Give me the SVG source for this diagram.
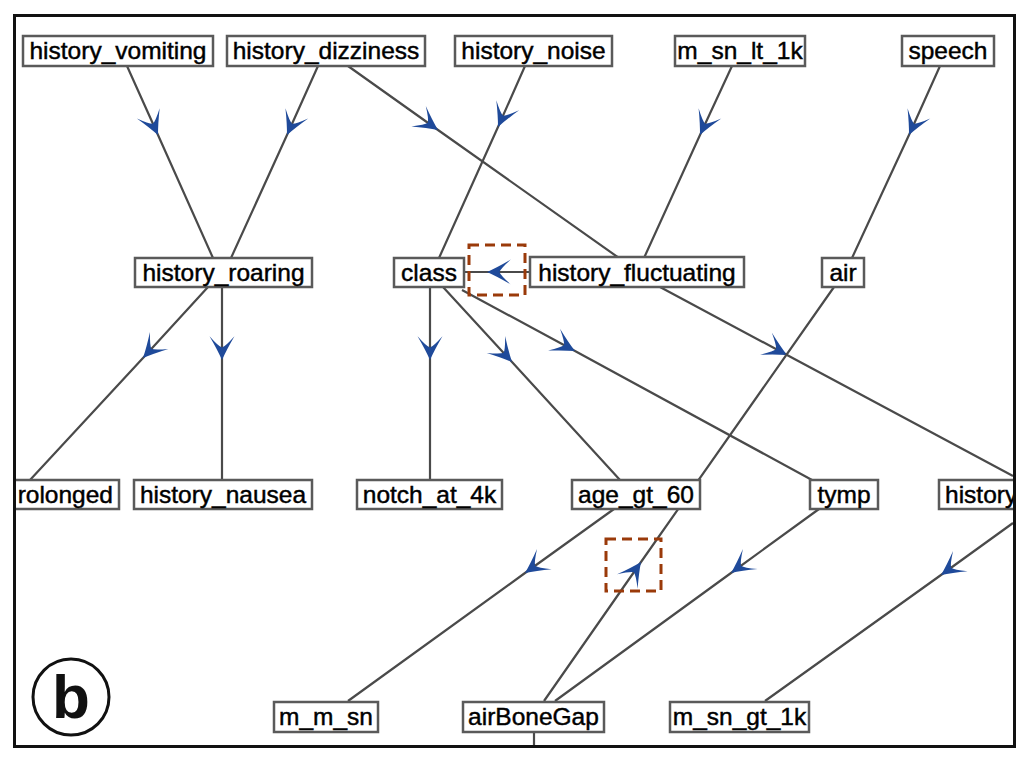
<svg xmlns="http://www.w3.org/2000/svg" width="1024" height="768" viewBox="0 0 1024 768">
<style>
.e{fill:none;stroke:#4a4a4a;stroke-width:2.2;marker-mid:url(#ah)}
.p{fill:none;stroke:#4a4a4a;stroke-width:2.2}
.n rect{fill:#fff;stroke:#5a5a5a;stroke-width:2.5}
.n text{font-family:"Liberation Sans",Arial,sans-serif;font-size:24.5px;fill:#000;stroke:#000;stroke-width:0.45;text-anchor:middle}
.hl{fill:none;stroke:#9a3a0a;stroke-width:3;stroke-dasharray:10 6}
</style>
<defs>
<marker id="ah" markerUnits="userSpaceOnUse" orient="auto" markerWidth="34" markerHeight="34" refX="0" refY="0" viewBox="-26 -14 30 28" overflow="visible">
<path d="M0,0 Q-9,-4 -21,-11 Q-12,-3 -11,0 Q-12,3 -21,11 Q-9,4 0,0 Z" fill="#1f4a9a"/>
</marker>
<clipPath id="fr"><rect x="15" y="16" width="999" height="730"/></clipPath>
</defs>
<rect x="0" y="0" width="1024" height="768" fill="#fff"/>
<g clip-path="url(#fr)">
<g id="connectors">
<path class="e" d="M127,66 L158,135 L213,258"/>
<path class="e" d="M318,66 L287,135 L231,258"/>
<path class="e" d="M348,66 L438,130 L619,258"/>
<path class="e" d="M525,66 L498,127 L439,258"/>
<path class="e" d="M732,66 L700,135 L644,258"/>
<path class="e" d="M940,66 L909,135 L852,258"/>
<path class="e" d="M530,272 L487,272 L464,272"/>
<path class="e" d="M208,287 L143,358 L30,480"/>
<path class="e" d="M222,287 L222,360 L222,480"/>
<path class="e" d="M430,287 L430,360 L430,480"/>
<path class="e" d="M443,287 L512,362 L620,480"/>
<path class="e" d="M462,290 L575,351 L812,480"/>
<path class="e" d="M660,287 L787,355 L1013,476"/>
<path class="e" d="M544,701 L641,562 L834,287"/>
<path class="e" d="M614,509 L525,573 L348,701"/>
<path class="e" d="M819,509 L731,573 L555,701"/>
<path class="e" d="M1013,523 L941,575 L765,701"/>
<path class="p" d="M534,732 L534,748"/>
</g>
<g id="history_vomiting" class="n"><rect x="23" y="36" width="190" height="30"/><text x="118" y="59">history_vomiting</text></g>
<g id="history_dizziness" class="n"><rect x="227" y="36" width="198" height="30"/><text x="326" y="59">history_dizziness</text></g>
<g id="history_noise" class="n"><rect x="455" y="36" width="157" height="30"/><text x="533.5" y="59">history_noise</text></g>
<g id="m_sn_lt_1k" class="n"><rect x="675" y="36" width="130" height="30"/><text x="740" y="59">m_sn_lt_1k</text></g>
<g id="speech" class="n"><rect x="902" y="36" width="92" height="30"/><text x="948" y="59">speech</text></g>
<g id="history_roaring" class="n"><rect x="135" y="258" width="177" height="29"/><text x="223.5" y="281">history_roaring</text></g>
<g id="class" class="n"><rect x="394" y="258" width="70" height="29"/><text x="429" y="281">class</text></g>
<g id="history_fluctuating" class="n"><rect x="530" y="257" width="214" height="30"/><text x="637" y="281">history_fluctuating</text></g>
<g id="air" class="n"><rect x="822" y="258" width="42" height="29"/><text x="843" y="281">air</text></g>
<g id="history_prolonged" class="n"><rect x="8" y="480" width="111" height="29"/><text x="113" y="503" style="text-anchor:end">rolonged</text></g>
<g id="history_nausea" class="n"><rect x="134" y="480" width="178" height="29"/><text x="223" y="503">history_nausea</text></g>
<g id="notch_at_4k" class="n"><rect x="357" y="480" width="145" height="29"/><text x="429.5" y="503">notch_at_4k</text></g>
<g id="age_gt_60" class="n"><rect x="572" y="480" width="128" height="29"/><text x="636" y="503">age_gt_60</text></g>
<g id="tymp" class="n"><rect x="810" y="480" width="68" height="29"/><text x="844" y="503">tymp</text></g>
<g id="history_right" class="n"><rect x="939" y="480" width="90" height="29"/><text x="945" y="503" style="text-anchor:start">history</text></g>
<g id="m_m_sn" class="n"><rect x="274" y="702" width="104" height="30"/><text x="326" y="725">m_m_sn</text></g>
<g id="airBoneGap" class="n"><rect x="463" y="702" width="141" height="30"/><text x="533.5" y="725">airBoneGap</text></g>
<g id="m_sn_gt_1k" class="n"><rect x="670" y="702" width="139" height="30"/><text x="739.5" y="725">m_sn_gt_1k</text></g>
<g id="highlights">
<rect class="hl" x="469" y="245" width="56" height="50"/>
<rect class="hl" x="606" y="539" width="55" height="52"/>
</g>
</g>
<g id="label_b">
<circle cx="71" cy="697" r="38" fill="none" stroke="#111" stroke-width="3"/>
<text x="71" y="718" font-family="Liberation Sans,Arial,sans-serif" font-size="62" font-weight="bold" text-anchor="middle" fill="#111">b</text>
</g>
<rect x="14.5" y="15.5" width="1000" height="731" fill="none" stroke="#111" stroke-width="3"/>
</svg>
